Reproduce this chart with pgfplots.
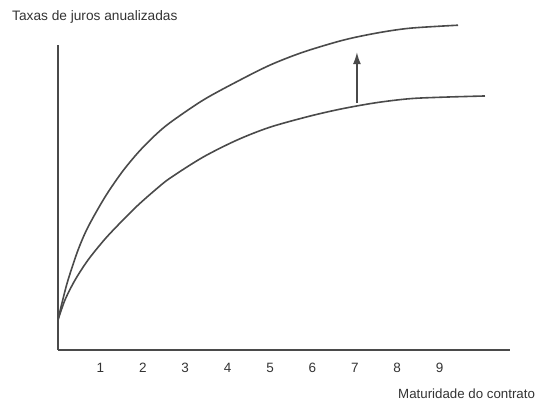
\documentclass[border=0pt]{standalone}
\usepackage{pgfplots}
\pgfplotsset{compat=1.18}
\usepackage{fontspec}
\setmainfont{Liberation Sans}
\usetikzlibrary{arrows.meta,calc}

\definecolor{ink}{HTML}{4A4A4A}
\definecolor{txt}{HTML}{333333}

\begin{document}
\begin{tikzpicture}
\begin{axis}[
  name=ax,
  scale only axis,
  width=452pt, height=305pt,
  xmin=0, xmax=10.66,
  ymin=0, ymax=10.17,
  axis lines=left,
  axis line style={-, line width=1.4pt, color=ink},
  clip=false,
  xtick={1,2,3,4,5,6,7,8,9},
  ytick=\empty,
  major tick length=0pt,
  xticklabel style={anchor=center, yshift=-18pt, font=\fontsize{13.5}{16}\selectfont, text=txt},
  /pgf/number format/assume math mode=true,
]

% curva original (inferior)
\addplot[smooth, tension=0.5, line width=1.6pt, color=ink] coordinates {
 (0,1.0) (0.165,1.67) (0.401,2.33) (0.708,3.0) (1.108,3.7) (1.509,4.3)
 (1.887,4.83) (2.288,5.33) (2.642,5.73) (3.42,6.43) (4.222,7.0)
 (5.0,7.43) (5.943,7.8) (6.722,8.05) (7.524,8.25) (8.302,8.38)
 (9.08,8.43) (10.07,8.47) };

% curva deslocada (superior)
\addplot[smooth, tension=0.5, line width=1.6pt, color=ink] coordinates {
 (0,1.0) (0.094,1.57) (0.236,2.33) (0.472,3.33) (0.708,4.1) (1.108,5.1)
 (1.509,5.93) (1.887,6.58) (2.26,7.12) (2.642,7.58) (3.42,8.33) (4.222,8.95)
 (5.0,9.5) (5.778,9.93) (6.722,10.33) (7.524,10.57) (8.302,10.73)
 (9.434,10.83) };

\draw[-{Latex[length=12pt,width=8pt]}, line width=1.4pt, color=ink]
  (axis cs:7.05,8.23) -- (axis cs:7.05,9.93);
\end{axis}

\node[anchor=west, inner sep=0pt, text=txt, font=\fontsize{13.7}{16}\selectfont]
  at ($(ax.south west)+(-46pt,333pt)$) {Taxas de juros anualizadas};
\node[anchor=west, inner sep=0pt, text=txt, font=\fontsize{13.3}{16}\selectfont]
  at ($(ax.south west)+(340pt,-44pt)$) {Maturidade do contrato};

\pgfresetboundingbox
\path (ax.south west) ++(-58pt,-53pt) rectangle ++(542pt,403pt);
\end{tikzpicture}
\end{document}
